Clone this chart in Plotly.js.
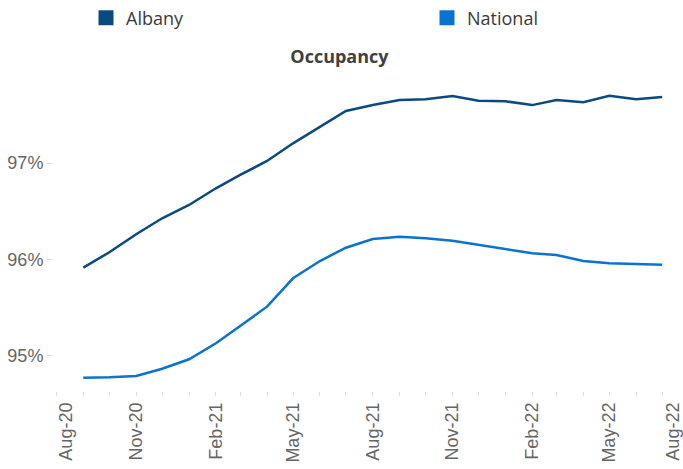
<!DOCTYPE html>
<html>
<head>
<meta charset="utf-8">
<script src="https://cdn.plot.ly/plotly-3.0.1.min.js"></script>
<style>html,body{margin:0;padding:0;background:#fff;}#chart{width:683px;height:469px;}</style>
</head>
<body>
<div id="chart"></div>
<script>
var months = ["2020-09-01","2020-10-01","2020-11-01","2020-12-01","2021-01-01","2021-02-01","2021-03-01","2021-04-01","2021-05-01","2021-06-01","2021-07-01","2021-08-01","2021-09-01","2021-10-01","2021-11-01","2021-12-01","2022-01-01","2022-02-01","2022-03-01","2022-04-01","2022-05-01","2022-06-01","2022-07-01"];
var albany = [95.915,96.075,96.261,96.427,96.565,96.738,96.876,97.021,97.204,97.376,97.539,97.601,97.653,97.660,97.694,97.645,97.640,97.600,97.653,97.630,97.697,97.660,97.684];
var national = [94.775,94.779,94.793,94.868,94.966,95.132,95.311,95.511,95.805,95.984,96.122,96.212,96.236,96.220,96.195,96.150,96.106,96.064,96.047,95.984,95.961,95.956,95.946];
var xTickDates = ["2020-08-12","2020-11-01","2021-02-01","2021-05-01","2021-08-01","2021-11-01","2022-02-01","2022-05-01","2022-07-14"];
var xTickLabels = ["Aug-20","Nov-20","Feb-21","May-21","Aug-21","Nov-21","Feb-22","May-22","Aug-22"];
var yTickVals = [95,96,97];
var yTickLabels = ["95%","96%","97%"];
var seriesNames = ["Albany","National"];
var colors = ["#0b4a80","#0a72cf"];

var data = [
  {x: months, y: albany, mode: "lines", line: {color: colors[0], width: 2.5}, showlegend: false, name: seriesNames[0], hoverinfo: "skip"},
  {x: months, y: national, mode: "lines", line: {color: colors[1], width: 2.5}, showlegend: false, name: seriesNames[1], hoverinfo: "skip"},
  {x: [null], y: [null], mode: "markers", marker: {symbol: "square", size: 15, color: colors[0]}, name: seriesNames[0], legend: "legend"},
  {x: [null], y: [null], mode: "markers", marker: {symbol: "square", size: 15, color: colors[1]}, name: seriesNames[1], legend: "legend2"}
];

var legendFont = {family: "Open Sans", size: 18, color: "#3a3a3a"};
var layout = {
  width: 683, height: 469,
  margin: {l: 53, r: 0, t: 75, b: 78},
  paper_bgcolor: "#fff", plot_bgcolor: "#fff",
  title: {text: "<b>Occupancy</b>", x: 0.497, xref: "container", y: 1 - 57/469, yref: "container", yanchor: "middle",
          font: {family: "Open Sans", size: 18, color: "#404040"}},
  showlegend: true,
  legend: {orientation: "h", xref: "container", yref: "container", x: 86/683, y: 1 - 18/469, yanchor: "middle", xanchor: "left",
           itemwidth: 30, font: legendFont, bgcolor: "rgba(0,0,0,0)"},
  legend2: {orientation: "h", xref: "container", yref: "container", x: 427/683, y: 1 - 18/469, yanchor: "middle", xanchor: "left",
           itemwidth: 30, font: legendFont, bgcolor: "rgba(0,0,0,0)"},
  xaxis: {type: "date", range: ["2020-07-28", "2022-07-25"], tickmode: "array", tickvals: xTickDates, ticktext: xTickLabels,
          tickangle: -90, ticks: "", showgrid: false, zeroline: false, showline: false, ticklabeloverflow: "allow",
          ticklabelstandoff: 7,
          tickfont: {family: "Liberation Sans, Arial", size: 18, color: "#666"},
          minor: {ticks: "outside", ticklen: 4, tickcolor: "#dcdcdc", dtick: "M1", tick0: "2020-08-01", showgrid: false}},
  yaxis: {range: [94.637, 97.912], tickmode: "array", tickvals: yTickVals, ticktext: yTickLabels,
          ticks: "outside", ticklen: 5, tickcolor: "#dcdcdc", showgrid: false, zeroline: false, showline: false,
          tickfont: {family: "Liberation Sans, Arial", size: 18, color: "#666"}}
};
Plotly.newPlot("chart", data, layout, {staticPlot: true, displayModeBar: false});
</script>
</body>
</html>
